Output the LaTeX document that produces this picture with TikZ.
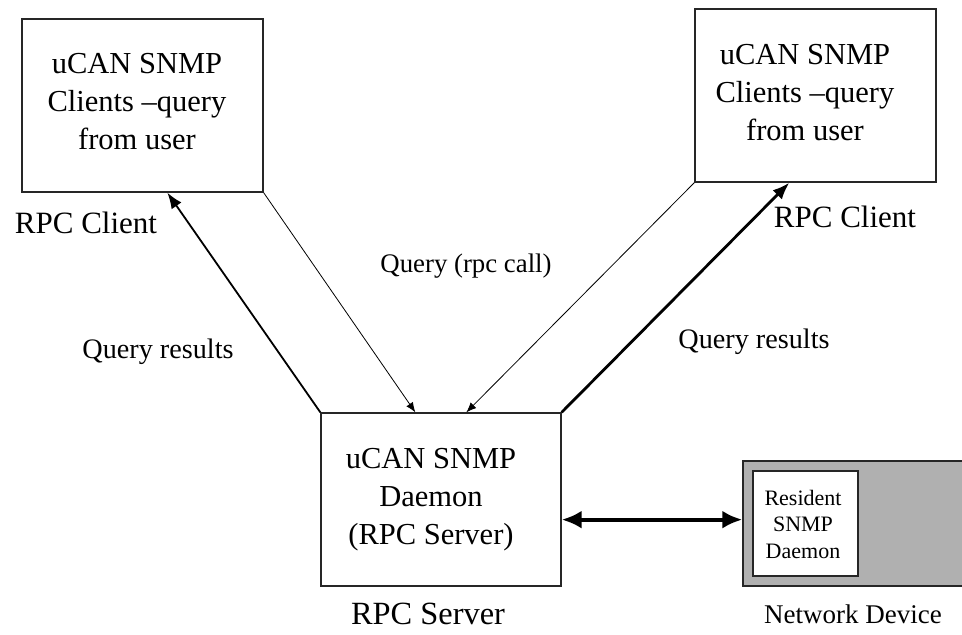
\documentclass[tikz,border=0pt]{standalone}
\usepackage{fontspec}
\setmainfont{Liberation Serif}
\usetikzlibrary{arrows.meta,calc}
\begin{document}
\begin{tikzpicture}[x=1pt,y=-1pt,
  box/.style={draw=black!85, line width=1.3pt, fill=white, inner sep=0pt},
  boxtext/.style={align=center, inner sep=0pt, font=\fontsize{30.5}{38}\selectfont},
  smalltext/.style={align=center, inner sep=0pt, font=\fontsize{22}{26.5}\selectfont},
  lbl/.style={inner sep=0pt, anchor=base},
  thinarrow/.style={line width=0.8pt, -{Latex[length=10pt,width=8pt]}},
  midarrow/.style={line width=1.8pt, -{Latex[length=16pt,width=12pt]}},
  heavyarrow/.style={line width=2.8pt, -{Latex[length=17pt,width=13pt]}},
  linkarrow/.style={line width=4pt, {Latex[length=20pt,width=18pt]}-{Latex[length=20pt,width=18pt]}}
]
\useasboundingbox (0,0) rectangle (962,635);

% client and server boxes
\node[box, minimum width=241pt, minimum height=173pt] (cl1) at (142.5,105.5) {};
\node[box, minimum width=241pt, minimum height=173pt] (cl2) at (815.5,95.5) {};
\node[box, minimum width=240pt, minimum height=173pt] (srv) at (441,499.5) {};

% network device with its resident agent
\node[box, fill=black!31, minimum width=221pt, minimum height=125pt] (nd) at (853.5,523.5) {};
\node[box, minimum width=105pt, minimum height=105pt] (res) at (805.5,523.5) {};

% box texts
\node[boxtext] (t1) at (137,102) {uCAN SNMP\\Clients –query\\from user};
\node[boxtext] (t2) at (805,92.5) {uCAN SNMP\\Clients –query\\from user};
\node[boxtext] (t3) at (431,500) {uCAN SNMP\\Daemon\\(RPC Server)};
\node[smalltext] (t4) at (803,524) {Resident\\SNMP\\Daemon};

% labels
\node[lbl, font=\fontsize{31}{36}\selectfont] (rc1) at (86,233) {RPC Client};
\node[lbl, font=\fontsize{31}{36}\selectfont] (rc2) at (845,227) {RPC Client};
\node[lbl, font=\fontsize{26.8}{32}\selectfont] (qc) at (466,272) {Query (rpc call)};
\node[lbl, font=\fontsize{28.2}{34}\selectfont] (qr1) at (158,358) {Query results};
\node[lbl, font=\fontsize{28.2}{34}\selectfont] (qr2) at (754,348) {Query results};
\node[lbl, font=\fontsize{32.4}{38}\selectfont] (rs) at (428,624) {RPC Server};
\node[lbl, font=\fontsize{27}{32}\selectfont] (nwd) at (853,623) {Network Device};

% connectors
\draw[midarrow] (srv.north west) -- ($(cl1.south west)+(146,0)$);
\draw[thinarrow] (cl1.south east) -- ($(srv.north west)+(95,0)$);
\draw[thinarrow] (cl2.south west) -- ($(srv.north west)+(146,0)$);
\draw[heavyarrow] (srv.north east) -- ($(cl2.south west)+(95,0)$);
\coordinate (lk) at ($(srv.south east)+(0,-67)$);
\draw[linkarrow] (lk) -- (nd.west |- lk);
\end{tikzpicture}
\end{document}
